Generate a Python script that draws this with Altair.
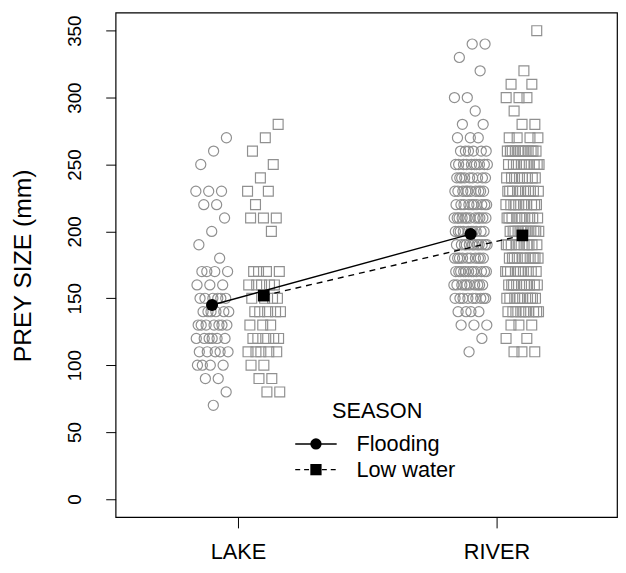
import altair as alt
import pandas as pd

# ---------------- data ----------------
sites = ["LAKE", "RIVER"]
seasons = ["Flooding", "Low water"]

lake_flood_vals = [270, 260, 250, 230, 220, 210, 200, 190, 180, 170, 160, 150, 140, 130, 120, 110, 100, 90, 80, 70]
lake_flood_cnts = [1, 1, 1, 3, 2, 1, 1, 1, 1, 4, 3, 6, 6, 7, 6, 5, 4, 2, 1, 1]

lake_low_vals = [280, 270, 260, 250, 240, 230, 220, 210, 200, 170, 160, 150, 140, 130, 120, 110, 100, 90, 80]
lake_low_cnts = [1, 1, 1, 1, 1, 2, 1, 3, 1, 4, 5, 4, 5, 3, 5, 5, 2, 2, 2]

river_flood_vals = [340, 330, 320, 300, 290, 280, 270, 260, 250, 240, 230, 220, 210, 200, 190, 180, 170, 160, 150, 140, 130, 120, 110]
river_flood_cnts = [2, 1, 1, 2, 1, 2, 3, 6, 10, 9, 10, 10, 12, 10, 12, 10, 12, 10, 9, 4, 3, 1, 1]

river_low_vals = [350, 320, 310, 300, 290, 280, 270, 260, 250, 240, 230, 220, 210, 200, 190, 180, 170, 160, 150, 140, 130, 120, 110]
river_low_cnts = [1, 1, 2, 3, 1, 2, 4, 12, 10, 8, 10, 10, 10, 12, 10, 10, 10, 10, 10, 10, 3, 2, 3]

mean_flood = [145, 198]
mean_low = [152, 197]

y_ticks = [0, 50, 100, 150, 200, 250, 300, 350]

# ---------------- layout constants ----------------
SEASON_SHIFT = {"Flooding": -0.1, "Low water": 0.1}
JITTER = 0.065
FONT = "Liberation Sans"
GRAY = "#909090"

groups = [
    ("LAKE", "Flooding", lake_flood_vals, lake_flood_cnts),
    ("LAKE", "Low water", lake_low_vals, lake_low_cnts),
    ("RIVER", "Flooding", river_flood_vals, river_flood_cnts),
    ("RIVER", "Low water", river_low_vals, river_low_cnts),
]

rows = []
for site, season, vals, cnts in groups:
    k = 0
    for v, c in zip(vals, cnts):
        for i in range(c):
            k += 1
            frac = (k * 0.6180339887 + 0.31) % 1.0
            off = (frac - 0.5) * 2 * JITTER
            rows.append({
                "site": site, "season": season, "value": v,
                "xpos": sites.index(site) + 1 + SEASON_SHIFT[season] + off,
            })
points = pd.DataFrame(rows)

mrows = []
for i, s in enumerate(sites):
    mrows.append({"site": s, "season": "Flooding", "value": mean_flood[i],
                  "xpos": i + 1 + SEASON_SHIFT["Flooding"]})
    mrows.append({"site": s, "season": "Low water", "value": mean_low[i],
                  "xpos": i + 1 + SEASON_SHIFT["Low water"]})
means = pd.DataFrame(mrows)

# ---------------- scales / axes ----------------
xscale = alt.Scale(domain=[0.527, 2.466], nice=False, zero=False)
yscale = alt.Scale(domain=[-13.5, 363.5], nice=False, zero=False)

xaxis = alt.Axis(values=[1, 2], labelExpr="datum.value == 1 ? 'LAKE' : 'RIVER'",
                 title=None, grid=False, domain=False, tickSize=11, tickColor="black",
                 labelFont=FONT, labelFontSize=22, labelColor="black",
                 labelPadding=24, labelBaseline="middle")
yaxis = alt.Axis(values=y_ticks, title="PREY SIZE (mm)", grid=False, domain=False,
                 tickSize=10, tickColor="black", labelFont=FONT, labelFontSize=19,
                 labelColor="black", labelAngle=270, labelAlign="center",
                 labelBaseline="middle", labelPadding=32,
                 titleFont=FONT, titleFontSize=25, titleFontWeight="normal",
                 titleColor="black", titleAngle=270, titleX=-94, titleY=256,
                 titleAlign="center", titleBaseline="middle")

x_enc = alt.X("xpos:Q", scale=xscale, axis=xaxis)
y_enc = alt.Y("value:Q", scale=yscale, axis=yaxis)

pbase = alt.Chart(points).encode(x=x_enc, y=y_enc)
circ_pts = pbase.transform_filter(alt.datum.season == "Flooding").mark_point(
    shape="circle", filled=False, stroke=GRAY, strokeWidth=1.2, size=105, opacity=1)
sq_pts = pbase.transform_filter(alt.datum.season == "Low water").mark_point(
    shape="square", filled=False, stroke=GRAY, strokeWidth=1.2, size=100, opacity=1)

mbase = alt.Chart(means).encode(x=x_enc, y=y_enc)
line_flood = mbase.transform_filter(alt.datum.season == "Flooding").mark_line(
    color="black", strokeWidth=1.4)
line_low = mbase.transform_filter(alt.datum.season == "Low water").mark_line(
    color="black", strokeWidth=1.4, strokeDash=[6, 5])
mean_circ = mbase.transform_filter(alt.datum.season == "Flooding").mark_point(
    shape="circle", filled=True, color="black", size=150, opacity=1)
mean_sq = mbase.transform_filter(alt.datum.season == "Low water").mark_point(
    shape="square", filled=True, color="black", size=140, opacity=1)

# ---------------- legend (drawn) ----------------
leg = pd.DataFrame({"season": seasons})
leg_title = alt.Chart(leg).transform_filter(alt.datum.season == "Flooding").mark_text(
    text="SEASON", font=FONT, fontSize=22, color="black", align="center", baseline="middle"
).encode(x=alt.value(265), y=alt.value(404))

def leg_row(season, ypix, shape, dash):
    src = alt.Chart(leg).transform_filter(alt.datum.season == season)
    kw = {"color": "black", "strokeWidth": 1.3}
    if dash:
        kw["strokeDash"] = dash
    rule = src.mark_rule(**kw).encode(x=alt.value(182), x2=alt.value(224), y=alt.value(ypix))
    mk = src.mark_point(shape=shape, filled=True, color="black", size=130, opacity=1).encode(
        x=alt.value(203), y=alt.value(ypix))
    txt = src.mark_text(font=FONT, fontSize=22, color="black", align="left",
                        baseline="middle").encode(
        x=alt.value(244), y=alt.value(ypix), text="season:N")
    return [rule, mk, txt]

legend_layers = leg_row("Flooding", 437, "circle", None) + leg_row("Low water", 463, "square", [5, 4])

chart = alt.layer(
    circ_pts, sq_pts, line_flood, line_low, mean_circ, mean_sq, leg_title, *legend_layers
).properties(
    width=508, height=511,
    autosize=alt.AutoSizeParams(type="none"),
    padding={"left": 109, "top": 1, "right": 1, "bottom": 53},
    background="white",
).configure_view(stroke="black", strokeWidth=1.2)

chart.save("out.html", embed_options={"renderer": "svg", "actions": False})
